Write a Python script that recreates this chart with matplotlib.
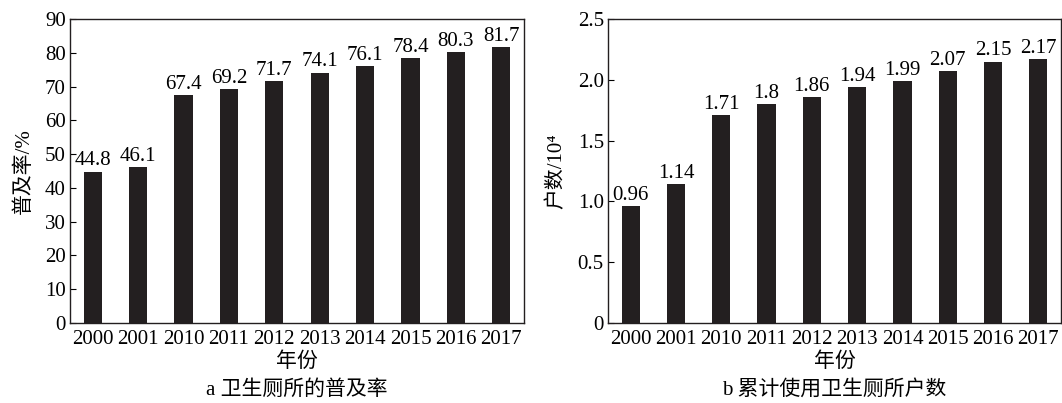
import numpy as np
import matplotlib
matplotlib.use('Agg')
import matplotlib.pyplot as plt

plt.rcParams['font.family'] = ['Liberation Serif', 'Noto Sans CJK SC']

years = ['2000', '2001', '2010', '2011', '2012', '2013', '2014', '2015', '2016', '2017']
rate = [44.8, 46.1, 67.4, 69.2, 71.7, 74.1, 76.1, 78.4, 80.3, 81.7]
households = [0.96, 1.14, 1.71, 1.8, 1.86, 1.94, 1.99, 2.07, 2.15, 2.17]
rate_labels = ['44.8', '46.1', '67.4', '69.2', '71.7', '74.1', '76.1', '78.4', '80.3', '81.7']
hh_labels = ['0.96', '1.14', '1.71', '1.8', '1.86', '1.94', '1.99', '2.07', '2.15', '2.17']

fig = plt.figure(figsize=(10.62, 4.03), dpi=100)
ax1 = fig.add_axes([70/1062, 80/403, 454/1062, 304/403])
ax2 = fig.add_axes([608/1062, 80/403, 453/1062, 304/403])

fs = 15
x = np.arange(len(years))

def draw(ax, vals, labels, ymax, step, ylabel, caption, fmt):
    ax.bar(x, vals, width=0.4, color='#231f20')
    for xi, v, lab in zip(x, vals, labels):
        ax.text(xi, v + ymax * 0.004, lab, ha='center', va='bottom', fontsize=fs)
    ax.set_xlim(-0.5, len(years) - 0.5)
    ax.set_ylim(0, ymax)
    ticks = np.arange(0, ymax + step / 2, step)
    ax.set_yticks(ticks)
    ax.set_yticklabels([fmt(t) for t in ticks], fontsize=fs)
    ax.set_xticks(x)
    ax.set_xticklabels(years, fontsize=fs)
    ax.tick_params(axis='y', direction='in', length=4, pad=3)
    ax.tick_params(axis='x', length=0, pad=5)
    ax.set_ylabel(ylabel, fontsize=fs, labelpad=8)
    ax.set_xlabel('年份', fontsize=fs)
    ax.xaxis.set_label_coords(0.5, -0.097)
    bb = ax.get_position()
    fig.text((bb.x0 + bb.x1) / 2, 1 - 390/403, caption, ha='center', va='center', fontsize=fs)
    for s in ax.spines.values():
        s.set_linewidth(1.0)
        s.set_color('#231f20')

draw(ax1, rate, rate_labels, 90, 10, '普及率/%', 'a 卫生厕所的普及率', lambda t: '%d' % t)
draw(ax2, households, hh_labels, 2.5, 0.5, '户数/10⁴', 'b 累计使用卫生厕所户数',
     lambda t: '0' if t == 0 else '%.1f' % t)

fig.savefig('out.png', dpi=100)
